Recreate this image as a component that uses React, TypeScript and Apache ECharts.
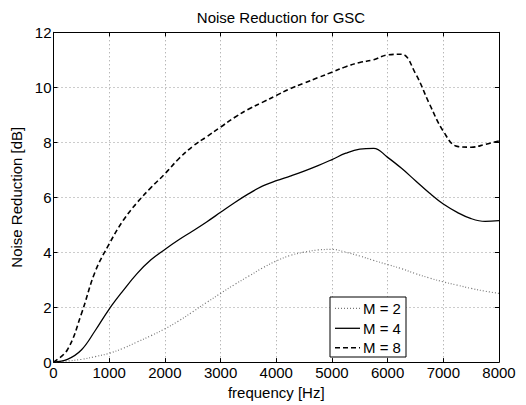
import React, { useEffect, useRef } from "react";
import * as echarts from "echarts";

const freqs = [
  0, 250, 500, 750, 1000, 1250, 1500, 1750, 2000, 2250, 2500, 2750, 3000, 3250, 3500, 3750, 4000,
  4250, 4500, 4750, 5000, 5250, 5500, 5750, 6000, 6250, 6500, 6750, 7000, 7250, 7500, 7750, 8000,
];
const m2 = [
  0, 0.04, 0.1, 0.2, 0.32, 0.5, 0.73, 0.96, 1.21, 1.5, 1.83, 2.17, 2.5, 2.82, 3.12, 3.42, 3.68,
  3.88, 4.0, 4.08, 4.1, 4.0, 3.86, 3.7, 3.55, 3.4, 3.22, 3.06, 2.92, 2.8, 2.68, 2.58, 2.5,
];
const m4 = [
  0, 0.1, 0.44, 1.15, 1.93, 2.6, 3.22, 3.72, 4.1, 4.45, 4.77, 5.1, 5.45, 5.8, 6.12, 6.4, 6.6,
  6.77, 6.95, 7.15, 7.37, 7.6, 7.75, 7.78, 7.45, 7.05, 6.6, 6.15, 5.75, 5.45, 5.22, 5.12, 5.15,
];
const m8 = [
  0, 0.45, 1.75, 3.3, 4.3, 5.15, 5.8, 6.35, 6.85, 7.4, 7.85, 8.2, 8.55, 8.9, 9.2, 9.45, 9.7,
  9.95, 10.15, 10.35, 10.55, 10.75, 10.9, 11.0, 11.18, 11.2, 10.5, 9.4, 8.4, 7.85, 7.82, 7.92, 8.05,
];
const seriesNames = ["M = 2", "M = 4", "M = 8"];
const xTicks = { min: 0, max: 8000, interval: 1000 };
const yTicks = { min: 0, max: 12, interval: 2 };

const FONT = "Liberation Sans, Arial, Helvetica, sans-serif";
const FS = 15;

export default function App() {
  const ref = useRef<HTMLDivElement>(null);
  useEffect(() => {
    if (!ref.current) return;
    const chart = echarts.init(ref.current, undefined, { renderer: "svg" });
    const pair = (ys: number[]) => freqs.map((f, i) => [f, ys[i]]);
    const axisCommon = {
      type: "value" as const,
      axisLine: { show: true, onZero: false, lineStyle: { color: "#000", width: 1 } },
      axisTick: { show: true, inside: true, length: 4, lineStyle: { color: "#000" } },
    };
    const legX = 330, legY = 297, legW = 76, legH = 60;
    const rows = [308.3, 328.3, 347.7];
    const styles = [
      { stroke: "#777", lineDash: [1, 2], lineWidth: 1.2 },
      { stroke: "#000", lineDash: null, lineWidth: 1.3 },
      { stroke: "#000", lineDash: [5, 3], lineWidth: 1.6 },
    ];
    const legendEls: any[] = [
      {
        type: "rect",
        shape: { x: legX, y: legY, width: legW, height: legH },
        style: { fill: "#fff", stroke: "#000", lineWidth: 1 },
        z: 100,
      },
    ];
    rows.forEach((ry, i) => {
      legendEls.push({
        type: "line",
        shape: { x1: 335, y1: ry, x2: 360, y2: ry },
        style: { ...styles[i], fill: null },
        z: 101,
      });
      legendEls.push({
        type: "text",
        x: 363,
        y: ry,
        style: {
          text: seriesNames[i],
          font: `${FS}px ${FONT}`,
          fill: "#000",
          verticalAlign: "middle",
        },
        z: 101,
      });
    });
    const labelStyle = {
      fontFamily: FONT,
      fontSize: FS,
      color: "#000",
      formatter: (v: number) => String(v),
    };
    chart.setOption({
      animation: false,
      backgroundColor: "#fff",
      title: {
        text: "Noise Reduction for GSC",
        left: 276,
        top: 5,
        textAlign: "center",
        textStyle: { fontFamily: FONT, fontSize: FS, fontWeight: "normal", color: "#000" },
      },
      grid: { left: 53.5, right: 27, top: 32.3, bottom: 36.7, containLabel: false },
      xAxis: [
        {
          ...axisCommon,
          position: "bottom",
          ...xTicks,
          name: "frequency [Hz]",
          nameLocation: "middle",
          nameGap: 16,
          nameTextStyle: { fontFamily: FONT, fontSize: FS, color: "#000" },
          axisLabel: { margin: 3, ...labelStyle },
          splitLine: { show: true, lineStyle: { color: "#999", type: [1, 3], width: 1 } },
        },
        {
          ...axisCommon,
          position: "top",
          ...xTicks,
          axisLabel: { show: false },
          splitLine: { show: false },
        },
      ],
      yAxis: [
        {
          ...axisCommon,
          position: "left",
          ...yTicks,
          name: "Noise Reduction [dB]",
          nameLocation: "middle",
          nameGap: 20,
          nameTextStyle: { fontFamily: FONT, fontSize: FS, color: "#000" },
          axisLabel: { margin: 2, ...labelStyle },
          splitLine: { show: true, lineStyle: { color: "#999", type: [1, 3], width: 1 } },
        },
        {
          ...axisCommon,
          position: "right",
          ...yTicks,
          axisLabel: { show: false },
          splitLine: { show: false },
        },
      ],
      series: [
        {
          name: seriesNames[0],
          type: "line",
          data: pair(m2),
          smooth: 0.4,
          symbol: "none",
          lineStyle: { color: "#777", width: 1.2, type: [1, 2] },
          z: 3,
        },
        {
          name: seriesNames[1],
          type: "line",
          data: pair(m4),
          smooth: 0.4,
          symbol: "none",
          lineStyle: { color: "#000", width: 1.3, type: "solid" },
          z: 4,
        },
        {
          name: seriesNames[2],
          type: "line",
          data: pair(m8),
          smooth: 0.4,
          symbol: "none",
          lineStyle: { color: "#000", width: 1.6, type: [5, 3] },
          z: 5,
        },
      ],
      graphic: legendEls,
    });
    return () => chart.dispose();
  }, []);
  return <div ref={ref} style={{ width: 526, height: 405, position: "absolute", left: 0, top: 0 }} />;
}
